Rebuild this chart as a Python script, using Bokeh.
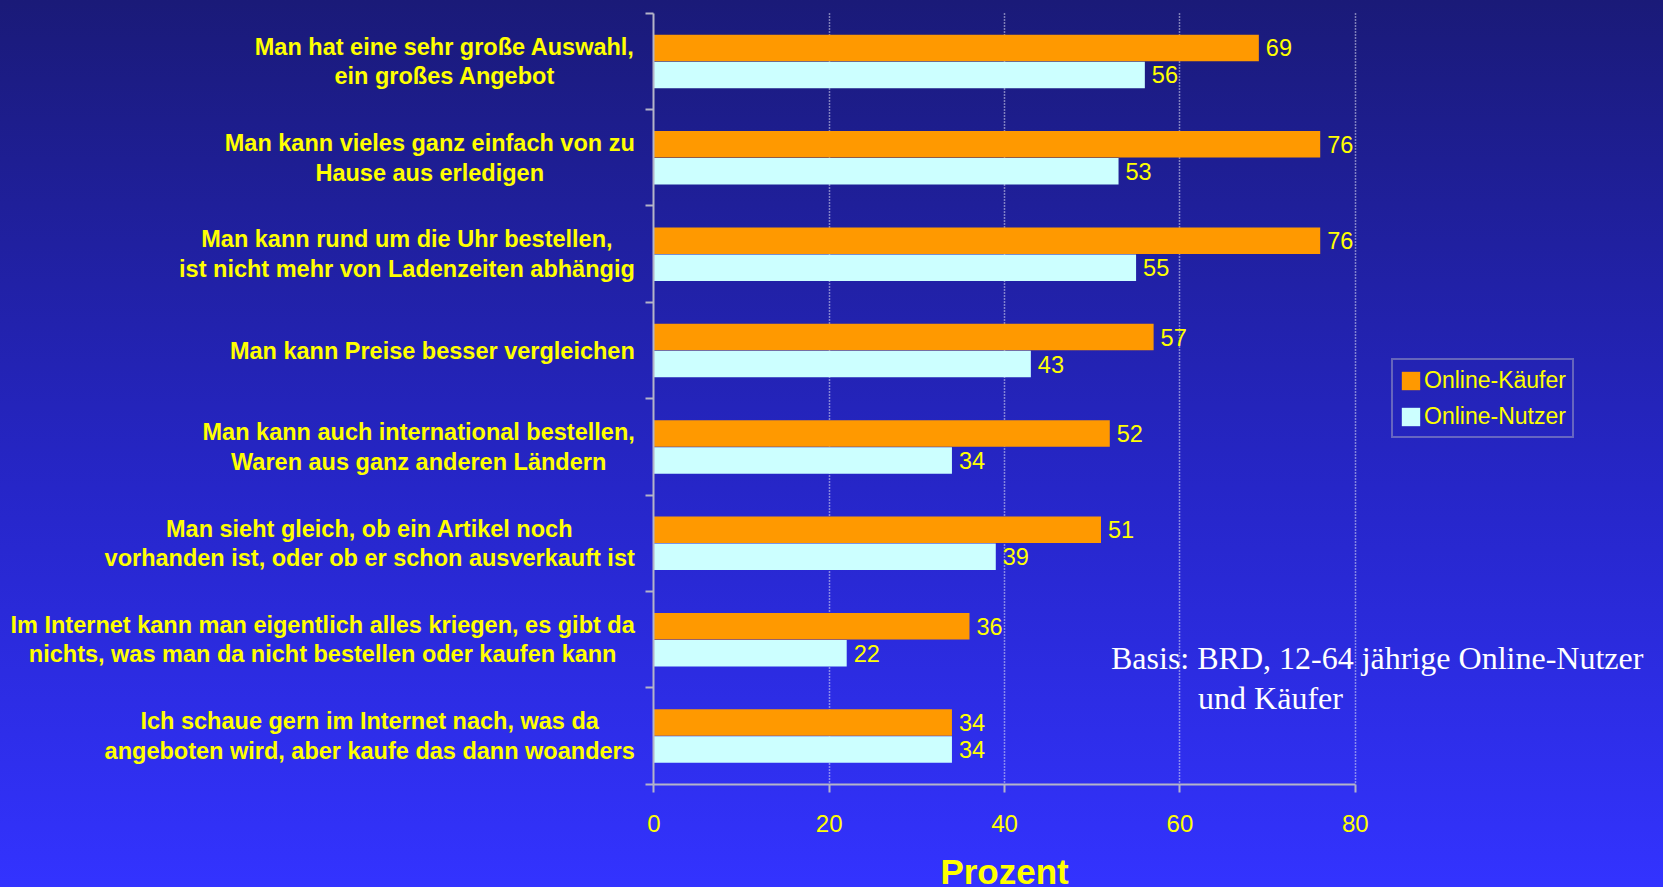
import numpy as np
from bokeh.plotting import figure
from bokeh.models import (ColumnDataSource, Range1d, FixedTicker, LabelSet, Label,
                          Legend, LegendItem, LinearAxis)
from bokeh.core.properties import value
from bokeh.embed import file_html
from bokeh.resources import INLINE

# ---------------- data ----------------
categories = [
    "Man hat eine sehr große Auswahl,\nein großes Angebot",
    "Man kann vieles ganz einfach von zu\nHause aus erledigen",
    "Man kann rund um die Uhr bestellen,\nist nicht mehr von Ladenzeiten abhängig",
    "Man kann Preise besser vergleichen",
    "Man kann auch international bestellen,\nWaren aus ganz anderen Ländern",
    "Man sieht gleich, ob ein Artikel noch\nvorhanden ist, oder ob er schon ausverkauft ist",
    "Im Internet kann man eigentlich alles kriegen, es gibt da\nnichts, was man da nicht bestellen oder kaufen kann",
    "Ich schaue gern im Internet nach, was da\nangeboten wird, aber kaufe das dann woanders",
]
online_kaeufer = [69, 76, 76, 57, 52, 51, 36, 34]
online_nutzer = [56, 53, 55, 43, 34, 39, 22, 34]
series_names = ["Online-Käufer", "Online-Nutzer"]
x_ticks = [0, 20, 40, 60, 80]
axis_title = "Prozent"
note_lines = ["Basis: BRD, 12-64 jährige Online-Nutzer", "und Käufer"]

# ---------------- styling / layout (pixels) ----------------
W, H = 1663, 887
X0_PX, X80_PX = 653.3, 1354.8      # pixel columns of value 0 and of the last tick
Y_TOP_PX, Y_BOT_PX = 12.7, 783.8   # pixel rows of the top and bottom of the category axis
LINE_PX = 29.5                     # line spacing of category labels
LABEL_PX = 23.5
YELLOW = "#ffff00"
ORANGE = "#ff9900"
CYAN = "#ccffff"
AXIS_GRAY = "#b4b4c8"
BAR_H = 0.275
DODGE = 0.14

n = len(categories)
X_MAX = x_ticks[-1]
ppx = (X80_PX - X0_PX) / X_MAX
ppy = (Y_BOT_PX - Y_TOP_PX) / n
x_start, x_end = -X0_PX / ppx, (W - X0_PX) / ppx
y_top, y_bottom = -Y_TOP_PX / ppy, n + (H - Y_BOT_PX) / ppy


def py(px):
    """pixel row -> data y"""
    return (px - Y_TOP_PX) / ppy


def px_x(px):
    """pixel column -> data x"""
    return (px - X0_PX) / ppx


# approximate Arial/Liberation Sans Bold advance widths (em/1000) to centre multi-line labels
_W = dict(zip("abcdefghijklmnopqrstuvwxyz",
              [556, 611, 556, 611, 556, 333, 611, 611, 278, 278, 556, 278, 889,
               611, 611, 611, 611, 389, 556, 333, 611, 556, 778, 556, 556, 500]))
_W.update(zip("ABCDEFGHIJKLMNOPQRSTUVWXYZ",
              [722, 722, 722, 722, 667, 611, 778, 722, 278, 556, 722, 611, 833,
               722, 778, 667, 778, 722, 667, 611, 722, 667, 944, 667, 667, 611]))
_W.update({" ": 278, ",": 278, ".": 278, "-": 333, "ä": 556, "ö": 611, "ü": 611, "ß": 611})


def text_width(s, size):
    return sum(_W.get(c, 556) for c in s) / 1000.0 * size


pos = np.arange(n) + 0.5

src = ColumnDataSource(dict(
    y_k=pos - DODGE, y_n=pos + DODGE,
    kaeufer=online_kaeufer, nutzer=online_nutzer,
    kaeufer_txt=[str(v) for v in online_kaeufer],
    nutzer_txt=[str(v) for v in online_nutzer],
))

# one entry per text line, each line centred on its label block
lx, ly, ltxt, loff = [], [], [], []
for i, cat in enumerate(categories):
    lines = cat.split("\n")
    bw = max(text_width(l, LABEL_PX) for l in lines)
    k = len(lines)
    for j, l in enumerate(lines):
        lx.append(0)
        ly.append(pos[i] + (j - (k - 1) / 2.0) * LINE_PX / ppy)
        ltxt.append(l)
        loff.append(-(19 + bw / 2.0))
cat_src = ColumnDataSource(dict(x=lx, y=ly, text=ltxt, xoff=loff))

p = figure(width=W, height=H,
           x_range=Range1d(x_start, x_end), y_range=Range1d(y_bottom, y_top),
           output_backend="svg", toolbar_location=None,
           x_axis_location=None, y_axis_location=None,
           min_border_left=0, min_border_right=0,
           min_border_top=0, min_border_bottom=0)
p.background_fill_alpha = 0
p.border_fill_alpha = 0
p.outline_line_color = None

r1 = p.hbar(y="y_k", left=0, right="kaeufer", height=BAR_H, source=src,
            fill_color=ORANGE, line_color=None)
r2 = p.hbar(y="y_n", left=0, right="nutzer", height=BAR_H, source=src,
            fill_color=CYAN, line_color=None)

font = value("Liberation Sans")
p.add_layout(LabelSet(x="kaeufer", y="y_k", text="kaeufer_txt", source=src,
                      x_offset=7, text_baseline="middle", text_align="left",
                      text_color=YELLOW, text_font=font, text_font_size="23.5px"))
p.add_layout(LabelSet(x="nutzer", y="y_n", text="nutzer_txt", source=src,
                      x_offset=7, text_baseline="middle", text_align="left",
                      text_color=YELLOW, text_font=font, text_font_size="23.5px"))
p.add_layout(LabelSet(x="x", y="y", text="text", source=cat_src, x_offset="xoff",
                      text_baseline="middle", text_align="center",
                      text_color=YELLOW, text_font=font, text_font_style="bold",
                      text_font_size=f"{LABEL_PX}px"))

# x axis along the bottom of the categories
xax = LinearAxis(fixed_location=n, bounds=(0, X_MAX), ticker=FixedTicker(ticks=x_ticks),
                 major_label_text_color=YELLOW, major_label_text_font="Liberation Sans",
                 major_label_text_font_size="24px", major_label_standoff=23)
p.add_layout(xax, "below")

# y axis at value 0, ticks at category boundaries
yax = LinearAxis(fixed_location=0, bounds=(0, n),
                 ticker=FixedTicker(ticks=list(range(n + 1))),
                 major_label_overrides={i: "" for i in range(n + 1)})
p.add_layout(yax, "left")

for ax in (xax, yax):
    ax.axis_line_color = AXIS_GRAY
    ax.axis_line_width = 2
    ax.major_tick_line_color = AXIS_GRAY
    ax.major_tick_line_width = 2
    ax.major_tick_out = 8
    ax.major_tick_in = 0
    ax.minor_tick_line_color = None

p.xgrid.ticker = FixedTicker(ticks=x_ticks[1:])
p.xgrid.bounds = (0, X_MAX)
p.xgrid.cross_bounds = (0, n)
p.xgrid.grid_line_color = "#e4e4f4"
p.xgrid.grid_line_dash = "1 2"
p.xgrid.grid_line_width = 1.5
p.ygrid.visible = False

# axis title centred under the value axis
p.add_layout(Label(x=X_MAX / 2, y=py(870.5), text=axis_title, text_align="center",
                   text_baseline="alphabetic", text_color=YELLOW,
                   text_font="Liberation Sans", text_font_style="bold",
                   text_font_size="35px"))

legend = Legend(items=[LegendItem(label=series_names[0], renderers=[r1]),
                       LegendItem(label=series_names[1], renderers=[r2])],
                location=(1391, H - 438.3), orientation="vertical",
                background_fill_alpha=0, border_line_color="#a8a8c4",
                border_line_width=2, label_text_color=YELLOW,
                label_text_font="Liberation Sans", label_text_font_size="23px",
                glyph_width=23, glyph_height=23, label_standoff=2,
                spacing=8, padding=6, margin=0, label_height=28)
p.add_layout(legend, "center")

note_px = [(1376.7, 657.6), (1270.0, 697.0)]
for t, (xx, yy) in zip(note_lines, note_px):
    p.add_layout(Label(x=px_x(xx), y=py(yy), text=t, text_align="center",
                       text_baseline="middle", text_color="white",
                       text_font="Liberation Serif", text_font_size="32px"))

html = file_html(p, INLINE)
html = html.replace("</head>",
                    "<style>html{min-height:100%;background:linear-gradient(to bottom,#1a1a78 0%,#2626c8 55%,#3333ff 100%);}"
                    "body{background:transparent;}</style></head>", 1)
open("out.html", "w").write(html)
